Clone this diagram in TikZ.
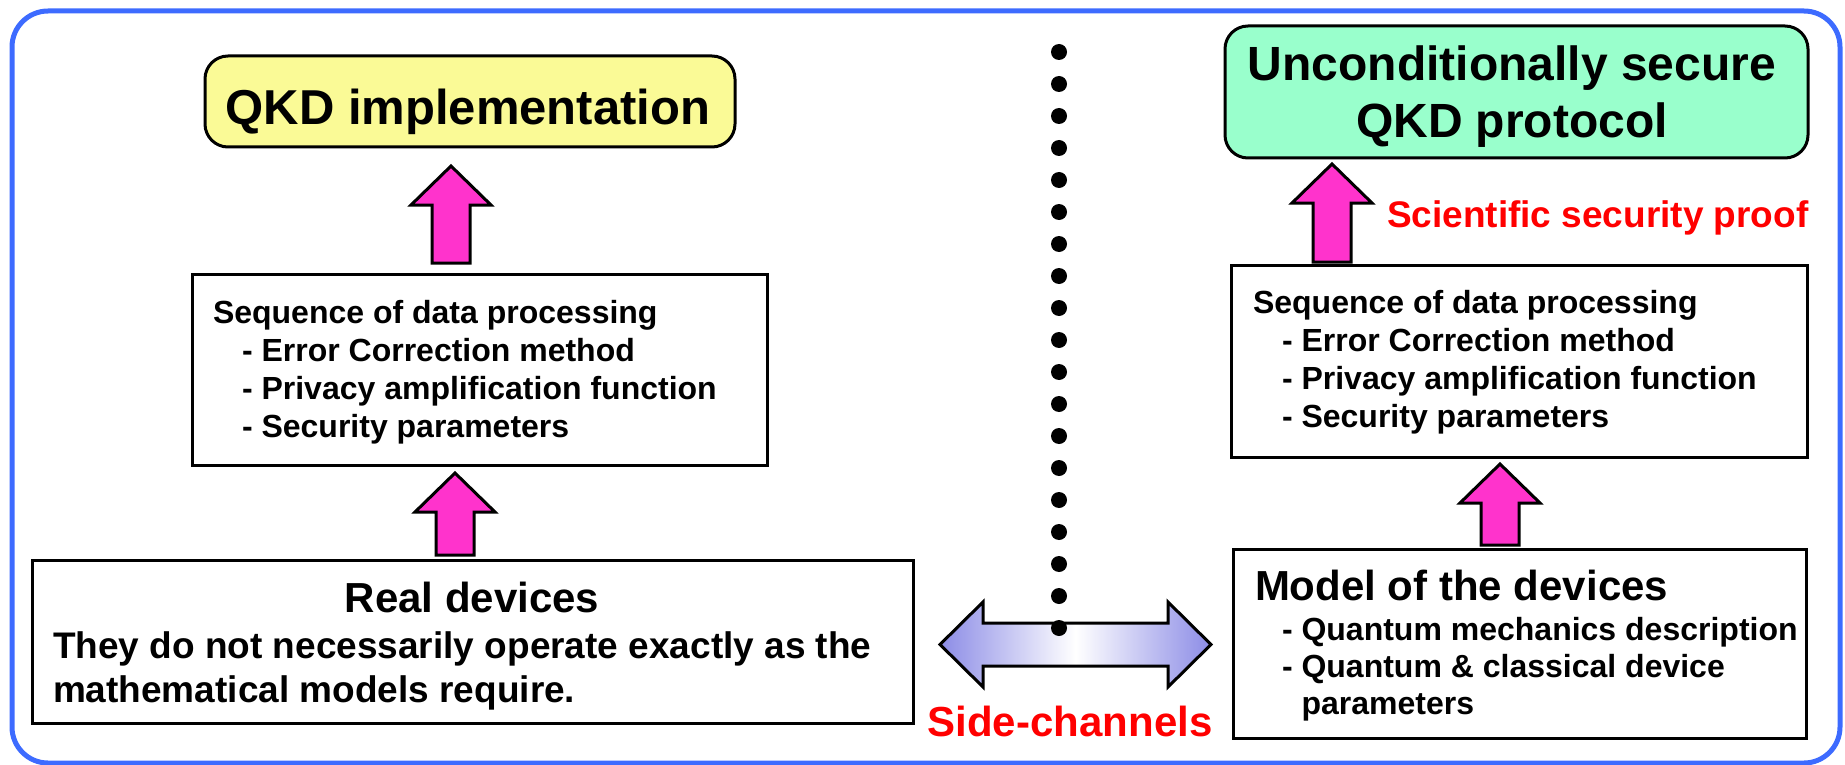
\documentclass[tikz,border=0pt]{standalone}
\usepackage{fontspec}
\setmainfont{Liberation Sans}
\usetikzlibrary{calc}

\definecolor{frameblue}{RGB}{61,107,255}
\definecolor{arrowpink}{RGB}{255,51,204}
\definecolor{boxyellow}{RGB}{250,250,150}
\definecolor{boxgreen}{RGB}{153,255,204}
\definecolor{lavender}{RGB}{140,140,230}
\definecolor{alertred}{RGB}{255,0,0}

% fat upward arrow from a lower box to an upper box, in a given column
% #1 column coordinate, #2 lower node, #3 gap above it, #4 upper node, #5 gap below it
\newcommand\fatarrow[5]{%
  \draw[pinkarrow] let \p1=(#2.north -| #1), \p2=(#4.south -| #1) in
    (\x2,\y2-#5) -- (\x2+40pt,\y2-#5-39pt) -- (\x2+19pt,\y2-#5-39pt)
    -- (\x2+19pt,\y1+#3) -- (\x2-19pt,\y1+#3) -- (\x2-19pt,\y2-#5-39pt)
    -- (\x2-40pt,\y2-#5-39pt) -- cycle;}

\begin{document}
\begin{tikzpicture}[x=1pt,y=-1pt,
  box/.style={draw=black, line width=3pt, fill=white, inner sep=0pt, outer sep=0pt},
  roundbox/.style={box, rounded corners=23pt},
  txt/.style={inner sep=0pt, outer sep=0pt, font=\bfseries},
  pinkarrow/.style={draw=black, fill=arrowpink, line width=3pt, line join=miter},
  sidearrow/.style={draw=black, line width=3pt, line join=miter,
    left color=lavender, right color=lavender, middle color=white}]
\useasboundingbox (0,0) rectangle (1845,765);

% outer frame
\draw[frameblue, line width=5pt, rounded corners=36pt] (12,11) rectangle (1840,763);

% boxes
\node[roundbox, fill=boxyellow, minimum width=530pt, minimum height=91pt] (impl) at (470,101.5) {};
\node[roundbox, fill=boxgreen, minimum width=583pt, minimum height=132pt] (proto) at (1516.5,92) {};
\node[box, minimum width=575pt, minimum height=191pt] (seqL) at (479.5,369.5) {};
\node[box, minimum width=576pt, minimum height=192pt] (seqR) at (1519,361) {};
\node[box, minimum width=881pt, minimum height=163pt] (real) at (472.5,641.5) {};
\node[box, minimum width=573pt, minimum height=189pt] (model) at (1519.5,643.5) {};

% texts
\node[txt, anchor=base] (implt) at (468,125) {\fontsize{49}{58}\selectfont QKD implementation};
\node[txt, anchor=base] (protot) at (1512,81) {\fontsize{48}{57}\selectfont
  \begin{tabular}[t]{@{}c@{}}Unconditionally secure\\QKD protocol\end{tabular}};
\node[txt, anchor=base west, text=alertred] (proof) at (1387,227) {\fontsize{37}{44}\selectfont Scientific security proof};

\node[txt, anchor=base west] (seqLt) at (213,323) {\fontsize{32}{38}\selectfont
  \begin{tabular}[t]{@{}l@{}}Sequence of data processing\\
  \hspace*{29pt}- Error Correction method\\
  \hspace*{29pt}- Privacy amplification function\\
  \hspace*{29pt}- Security parameters\end{tabular}};
\node[txt, anchor=base west] (seqRt) at (1253,313) {\fontsize{32}{38}\selectfont
  \begin{tabular}[t]{@{}l@{}}Sequence of data processing\\
  \hspace*{29pt}- Error Correction method\\
  \hspace*{29pt}- Privacy amplification function\\
  \hspace*{29pt}- Security parameters\end{tabular}};

\node[txt, anchor=base] (realt) at (472,612) {\fontsize{42}{50}\selectfont Real devices};
\node[txt, anchor=base west] (reald) at (53,658) {\fontsize{37}{44}\selectfont
  \begin{tabular}[t]{@{}l@{}}They do not necessarily operate exactly as the\\
  mathematical models require.\end{tabular}};

\node[txt, anchor=base west] (modelt) at (1255,600) {\fontsize{42}{50}\selectfont Model of the devices};
\node[txt, anchor=base west] (modeld) at (1255,640) {\fontsize{32}{37}\selectfont
  \begin{tabular}[t]{@{}l@{}}\hspace*{27pt}- Quantum mechanics description\\
  \hspace*{27pt}- Quantum \& classical device\\
  \hspace*{27pt}\hphantom{-\ }parameters\end{tabular}};

\node[txt, anchor=base, text=alertred] (side) at (1070,736) {\fontsize{42}{50}\selectfont Side-channels};

% columns of the upward arrows
\coordinate (colA) at (451,0);
\coordinate (colB) at (455,0);
\coordinate (colC) at (1332,0);
\coordinate (colD) at (1500,0);

\fatarrow{colA}{seqL}{11pt}{impl}{19pt}
\fatarrow{colB}{real}{5pt}{seqL}{8pt}
\fatarrow{colC}{seqR}{3pt}{proto}{6pt}
\fatarrow{colD}{model}{4pt}{seqR}{7pt}

% side-channel double arrow
\coordinate (scL) at (940,644.5);
\coordinate (scR) at (1211,644.5);
\draw[sidearrow] let \p1=(scL), \p2=(scR) in
  (\x1,\y1) -- (\x1+43pt,\y1+42.5pt) -- (\x1+43pt,\y1+21.5pt)
  -- (\x2-43pt,\y2+21.5pt) -- (\x2-43pt,\y2+42.5pt) -- (\x2,\y2)
  -- (\x2-43pt,\y2-42.5pt) -- (\x2-43pt,\y2-21.5pt)
  -- (\x1+43pt,\y1-21.5pt) -- (\x1+43pt,\y1-42.5pt) -- cycle;

% dotted divider
\foreach \i in {0,...,18}
  \fill[black] (1059,52+32*\i) circle (8pt);
\end{tikzpicture}
\end{document}
